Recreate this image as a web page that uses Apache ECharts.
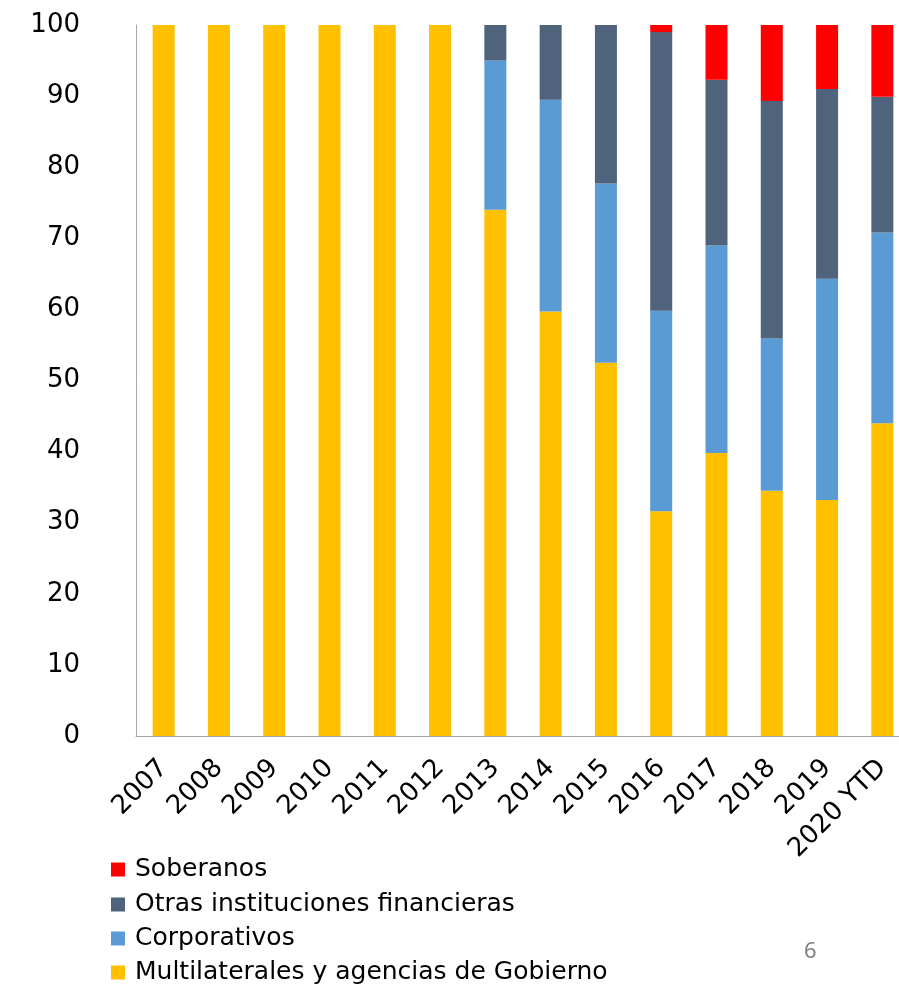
<!DOCTYPE html>
<html>
<head>
<meta charset="utf-8">
<script src="https://cdn.jsdelivr.net/npm/echarts@6/dist/echarts.min.js"></script>
<style>
html,body{margin:0;padding:0;background:#fff;}
#chart{width:899px;height:986px;}
</style>
</head>
<body>
<div id="chart"></div>
<script>
const categories = ['2007','2008','2009','2010','2011','2012','2013','2014','2015','2016','2017','2018','2019','2020 YTD'];
const multilaterales = [100,100,100,100,100,100,74.0,59.7,52.5,31.6,39.8,34.5,33.2,44.0];
const corporativos   = [0,0,0,0,0,0,21.0,29.8,25.2,28.2,29.2,21.4,31.1,26.8];
const otras          = [0,0,0,0,0,0,5.0,10.5,22.3,39.2,23.3,33.4,26.7,19.1];
const soberanos      = [0,0,0,0,0,0,0,0,0,1.0,7.7,10.7,9.0,10.1];
const yTicks = [0,10,20,30,40,50,60,70,80,90,100];

const seriesNames = ['Multilaterales y agencias de Gobierno','Corporativos','Otras instituciones financieras','Soberanos'];
const seriesData = [multilaterales, corporativos, otras, soberanos];
const colors = ['#FFC000','#5B9BD5','#4F637D','#FF0000'];
const legendOrder = ['Soberanos','Otras instituciones financieras','Corporativos','Multilaterales y agencias de Gobierno'];

const chart = echarts.init(document.getElementById('chart'));
const fontFam = 'DejaVu Sans';
chart.setOption({
  animation:false,
  grid:{left:136, top:25, height:711, width:774, containLabel:false, outerBoundsMode:'none'},
  xAxis:{
    type:'category', data:categories,
    axisLine:{lineStyle:{color:'#A6A6A6', width:1}},
    axisTick:{show:false},
    axisLabel:{rotate:45, margin:28, color:'#000', fontSize:26, fontFamily:fontFam, interval:0}
  },
  yAxis:{
    type:'value', min:yTicks[0], max:yTicks[yTicks.length-1], interval:10,
    splitLine:{show:false},
    axisLine:{show:true, lineStyle:{color:'#A6A6A6', width:1}},
    axisTick:{show:false},
    axisLabel:{margin:56, color:'#000', fontSize:26, fontFamily:fontFam, padding:[6,0,0,0]}
  },
  legend: legendOrder.map((name,i)=>({
    orient:'vertical', left:106, top:[852,887,921,955][i],
    data:[name],
    icon:'rect', itemWidth:14, itemHeight:14,
    textStyle:{fontSize:25, color:'#000', fontFamily:fontFam, padding:[0,0,0,5]}
  })),
  graphic:[{type:'text', left:804, top:941, style:{text:'6', fontSize:22, fill:'#7F7F7F', fontFamily:'Noto Sans'}}],
  series: seriesNames.map((n,i)=>({
    name:n, type:'bar', stack:'total', barWidth:22,
    itemStyle:{color:colors[i]},
    data:seriesData[i]
  }))
});
</script>
</body>
</html>
